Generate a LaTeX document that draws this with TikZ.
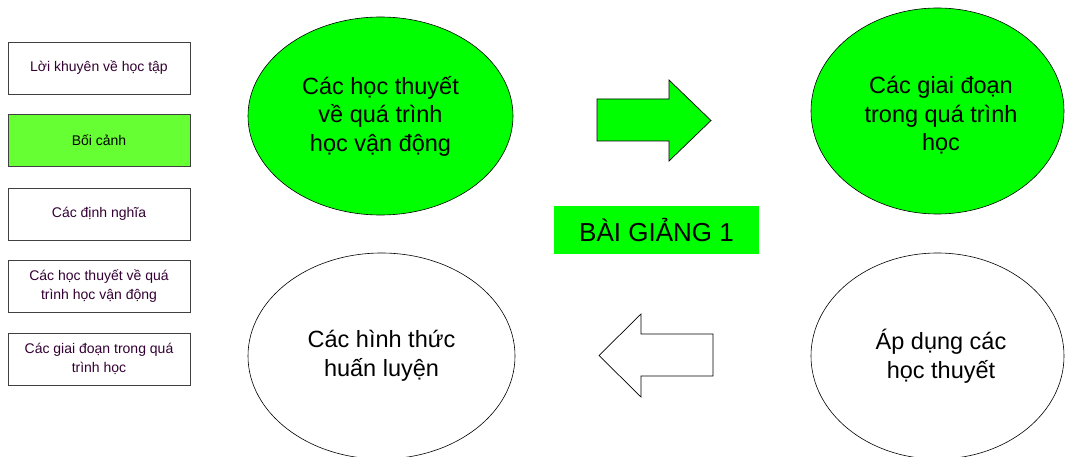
\documentclass[tikz,border=0pt]{standalone}
\usepackage{fontspec}
\setmainfont{Liberation Sans}
\usetikzlibrary{shapes.geometric}
\definecolor{brightgreen}{RGB}{0,255,0}
\definecolor{sidegreen}{RGB}{102,255,51}
\definecolor{plum}{RGB}{51,0,51}

\begin{document}
\begin{tikzpicture}[x=1pt,y=-1pt,
  sidebox/.style={draw=black!75, line width=0.8pt, minimum width=182pt,
    minimum height=52pt, inner sep=0pt, align=center, text=plum,
    font=\fontsize{14}{18.5}\selectfont},
  topic/.style={ellipse, draw=black, line width=0.6pt, inner sep=0pt,
    align=center, font=\fontsize{23.5}{28.5}\selectfont},
  topictext/.style={inner sep=0pt, align=center,
    font=\fontsize{23.5}{28.5}\selectfont},
  blockarrow/.style={draw=black, line width=0.7pt, line join=miter}]
\useasboundingbox (0,0) rectangle (1066,457);

% side menu
\node[sidebox] (b1) at (99,68) {Lời khuyên về học tập};
\node[sidebox, fill=sidegreen, text=black] (b2) at (99,140.5) {Bối cảnh};
\node[sidebox] (b3) at (99,214) {Các định nghĩa};
\node[sidebox] (b4) at (99,286) {Các học thuyết về quá\\trình học vận động};
\node[sidebox] (b5) at (99,359) {Các giai đoạn trong quá\\trình học};

% topic ellipses
\node[topic, fill=brightgreen, minimum width=265pt, minimum height=198pt]
  (e1) at (380.5,116) {Các học thuyết\\về quá trình\\học vận động};
\node[topic, fill=brightgreen, minimum width=253pt, minimum height=206pt]
  (e2) at (937.5,111) {};
\node[topictext] (e2text) at (941,115.5) {Các giai đoạn\\trong quá trình\\học};
\node[topic, fill=white, minimum width=267pt, minimum height=206pt]
  (e3) at (381.5,356) {Các hình thức\\huấn luyện};
\node[topic, fill=white, minimum width=253pt, minimum height=206pt]
  (e4) at (937.5,356) {};
\node[topictext] (e4text) at (941,356) {Áp dụng các\\học thuyết};

% title
\node[fill=brightgreen, minimum width=205pt, minimum height=48pt, inner sep=0pt,
  font=\fontsize{26}{30}\selectfont] (title) at (656.5,230) {BÀI GIẢNG 1};

% block arrows
\draw[blockarrow, fill=brightgreen]
  (597,99) -- (669,99) -- (669,80) -- (711,120.5) -- (669,161)
  -- (669,141) -- (597,141) -- cycle;
\draw[blockarrow, fill=white]
  (713,334) -- (641,334) -- (641,314) -- (599,355.5) -- (641,397)
  -- (641,376) -- (713,376) -- cycle;
\end{tikzpicture}
\end{document}
